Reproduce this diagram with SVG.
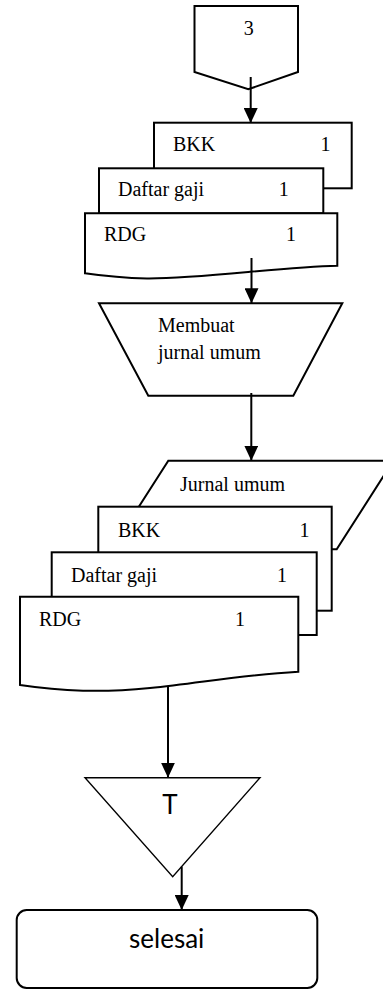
<svg xmlns="http://www.w3.org/2000/svg" width="383" height="990" viewBox="0 0 383 990">
  <style>
    .shape { fill: #fff; stroke: #000; stroke-width: 2; stroke-linejoin: miter; }
    .thin { fill: #fff; stroke: #000; stroke-width: 1.4; }
    .serif { font-family: "Liberation Serif", "Times New Roman", serif; font-size: 20px; fill: #000; }
    .sans { font-family: Lato, "Liberation Sans", sans-serif; font-size: 26px; fill: #000; }
    .flow { stroke: #000; stroke-width: 2; fill: none; marker-end: url(#arrow); }
  </style>
  <defs>
    <marker id="arrow" markerUnits="userSpaceOnUse" markerWidth="15" markerHeight="14" refX="15" refY="7" orient="auto">
      <path d="M0,0 L15,7 L0,14 Z" fill="#000"/>
    </marker>
  </defs>
  <rect width="383" height="990" fill="#fff"/>

  <!-- off-page connector -->
  <g id="connector-3">
    <polygon class="shape" points="194.5,6 298,6 298,72 248.3,89.3 194.5,72"/>
    <text class="serif" x="248.7" y="35" text-anchor="middle">3</text>
  </g>

  <!-- first document stack -->
  <g id="doc-bkk-1">
    <rect class="shape" x="154" y="122.7" width="197.7" height="65.6"/>
    <text class="serif" x="173" y="150.7">BKK</text>
    <text class="serif" x="320.5" y="150.7">1</text>
  </g>
  <g id="doc-daftar-gaji-1">
    <rect class="shape" x="99" y="168.3" width="224.3" height="45"/>
    <text class="serif" x="118" y="196">Daftar gaji</text>
    <text class="serif" x="278.8" y="196">1</text>
  </g>
  <g id="doc-rdg-1">
    <path class="shape" d="M85,213.3 H337.3 V265.7 C 280,267 200,279 147,278.5 C 120,278 100,275.5 85,273.3 Z"/>
    <text class="serif" x="104" y="240.7">RDG</text>
    <text class="serif" x="286" y="240.7">1</text>
  </g>

  <!-- manual operation -->
  <g id="membuat-jurnal-umum">
    <polygon class="shape" points="99,303.3 342.3,303.3 293.3,395.7 148.3,395.7"/>
    <text class="serif" x="158" y="331.7">Membuat</text>
    <text class="serif" x="158" y="359">jurnal umum</text>
  </g>

  <!-- journal (input/output) -->
  <g id="jurnal-umum">
    <polygon class="shape" points="168.3,460.7 393.4,460.7 336.7,549.3 111.6,549.3"/>
    <text class="serif" x="180" y="490.7">Jurnal umum</text>
  </g>

  <!-- second document stack -->
  <g id="doc-bkk-2">
    <rect class="shape" x="98.3" y="506.7" width="233.4" height="104"/>
    <text class="serif" x="118" y="536.7">BKK</text>
    <text class="serif" x="299.5" y="536.7">1</text>
  </g>
  <g id="doc-daftar-gaji-2">
    <rect class="shape" x="51.7" y="552.3" width="265" height="82.7"/>
    <text class="serif" x="71" y="581.7">Daftar gaji</text>
    <text class="serif" x="277" y="581.7">1</text>
  </g>
  <g id="doc-rdg-2">
    <path class="shape" d="M20,596.7 H298.3 V671.7 C 240,675 200,683 150,688 C 120,691 95,691 83,690.7 C 60,690 40,688 20,685 Z"/>
    <text class="serif" x="39" y="626">RDG</text>
    <text class="serif" x="235" y="626">1</text>
  </g>

  <!-- archive -->
  <g id="arsip-t">
    <polygon class="thin" points="85,777.7 260,777.7 172.7,876.7"/>
    <text class="sans" x="170" y="814.3" text-anchor="middle">T</text>
  </g>

  <!-- terminator -->
  <g id="selesai">
    <rect class="shape" x="16.7" y="910" width="300.6" height="78" rx="10" ry="10"/>
    <text class="sans" x="166.7" y="948.3" text-anchor="middle">selesai</text>
  </g>

  <!-- connectors -->
  <g id="connectors">
    <line class="flow" x1="250.7" y1="77" x2="250.7" y2="123"/>
    <line class="flow" x1="251.5" y1="258" x2="251.5" y2="303.3"/>
    <line class="flow" x1="251.3" y1="393" x2="251.3" y2="460.7"/>
    <line class="flow" x1="168" y1="687" x2="168" y2="777.7"/>
    <line class="flow" x1="181.7" y1="866.7" x2="181.7" y2="910"/>
  </g>
</svg>
